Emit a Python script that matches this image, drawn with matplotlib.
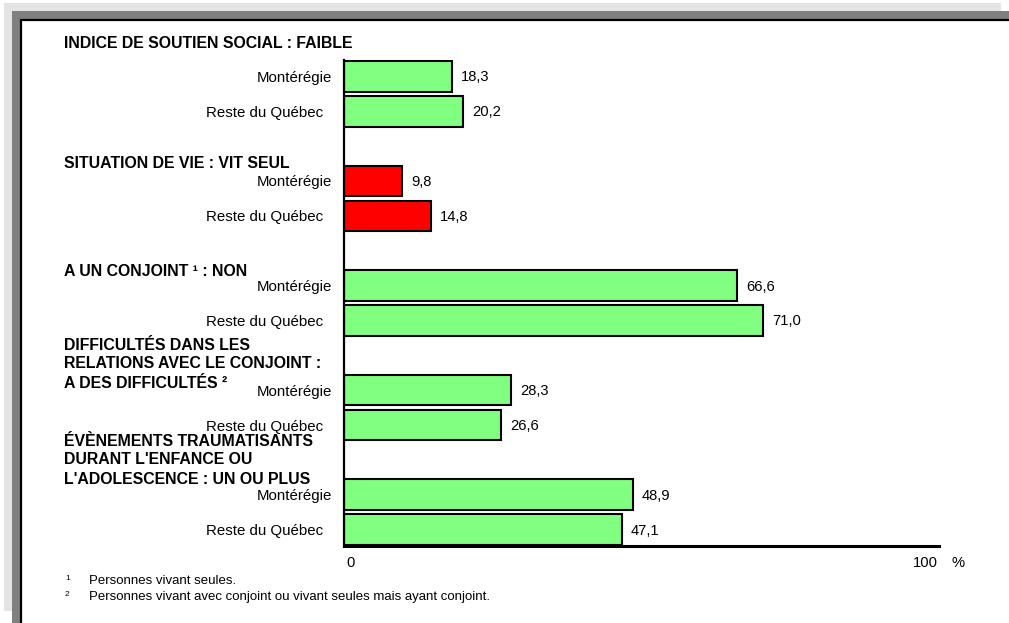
import matplotlib
matplotlib.use("Agg")
import matplotlib.pyplot as plt
from matplotlib.patches import Rectangle

plt.rcParams['font.family'] = ['Liberation Sans', 'DejaVu Sans']

# ---- data ----
groups = [
    "INDICE DE SOUTIEN SOCIAL : FAIBLE",
    "SITUATION DE VIE : VIT SEUL",
    "A UN CONJOINT \u00b9 : NON",
    "DIFFICULTÉS DANS LES\nRELATIONS AVEC LE CONJOINT :\nA DES DIFFICULTÉS \u00b2",
    "ÉVÈNEMENTS TRAUMATISANTS\nDURANT L'ENFANCE OU\nL'ADOLESCENCE : UN OU PLUS",
]
regions = ["Montérégie", "Reste du Québec"]
monteregie = [18.3, 9.8, 66.6, 28.3, 48.9]
reste_quebec = [20.2, 14.8, 71.0, 26.6, 47.1]
group_colors = ["#80FF80", "#FF0000", "#80FF80", "#80FF80", "#80FF80"]
x_ticks = [0, 100]
x_ticklabels = ["0", "100"]
footnotes = ["Personnes vivant seules.",
             "Personnes vivant avec conjoint ou vivant seules mais ayant conjoint."]

W, H = 1009, 623
fig = plt.figure(figsize=(W / 100, H / 100), dpi=100)

def fx(px):
    return px / W

def fy(py):
    return 1 - py / H

# ---- frame ----
fig.patches.append(Rectangle((fx(4), fy(611)), fx(997), (611 - 3) / H,
                             transform=fig.transFigure, facecolor="#E4E4E4",
                             edgecolor="none", zorder=-3))
fig.patches.append(Rectangle((fx(12), fy(640)), fx(1100), (640 - 11) / H,
                             transform=fig.transFigure, facecolor="#808080",
                             edgecolor="none", zorder=-2))
fig.patches.append(Rectangle((fx(21), fy(640)), fx(1100), (640 - 20) / H,
                             transform=fig.transFigure, facecolor="white",
                             edgecolor="black", linewidth=1.6, zorder=-1))

# ---- axes ----
ax_left, ax_right, ax_top, ax_bottom = 344, 939, 60, 546
ax = fig.add_axes([fx(ax_left), fy(ax_bottom), fx(ax_right - ax_left), (ax_bottom - ax_top) / H])
ax.set_facecolor("none")

positions_m = [3 * i for i in range(len(groups))]
positions_r = [3 * i + 1 for i in range(len(groups))]

ax.barh(positions_m, monteregie, height=0.88, color=group_colors,
        edgecolor="black", linewidth=1.5, align="center")
ax.barh(positions_r, reste_quebec, height=0.88, color=group_colors,
        edgecolor="black", linewidth=1.5, align="center")

ax.set_xlim(0, 100.8)
ax.set_ylim(13.47, -0.47)

for s in ["top", "right"]:
    ax.spines[s].set_visible(False)
ax.spines["left"].set_linewidth(1.6)
ax.spines["bottom"].set_linewidth(2.2)
ax.set_yticks([])
ax.set_xticks([])

px2pt = 0.72
fs_reg = 10.8

# category labels and values
for pos_list, vals, name, off in [(positions_m, monteregie, regions[0], 12),
                                  (positions_r, reste_quebec, regions[1], 21)]:
    for p, v in zip(pos_list, vals):
        ax.annotate(name, xy=(0, p), xycoords="data",
                    xytext=(-off * px2pt, -1.5 * px2pt), textcoords="offset points",
                    ha="right", va="center", fontsize=fs_reg, annotation_clip=False)
        ax.annotate(f"{v:.1f}".replace(".", ","), xy=(v, p), xycoords="data",
                    xytext=(9 * px2pt, -1.0 * px2pt), textcoords="offset points",
                    ha="left", va="center", fontsize=10.6, annotation_clip=False)

# x tick labels
tick_offsets = [7, -9]
for t, lab, o in zip(x_ticks, x_ticklabels, tick_offsets):
    ax.annotate(lab, xy=(t, 0), xycoords=("data", "axes fraction"),
                xytext=(o * px2pt, -17 * px2pt), textcoords="offset points",
                ha="center", va="center", fontsize=10.6, annotation_clip=False)
ax.annotate("%", xy=(100, 0), xycoords=("data", "axes fraction"),
            xytext=(24 * px2pt, -17 * px2pt), textcoords="offset points",
            ha="center", va="center", fontsize=10.6, annotation_clip=False)

# group headers (one text per line)
header_y = [[44], [164], [271], [346, 364, 384], [441, 460, 479]]
for g, ys in zip(groups, header_y):
    for line, y in zip(g.split("\n"), ys):
        fig.text(fx(64), fy(y), line, ha="left", va="center", fontsize=11.4,
                 fontweight="bold")

# footnotes
foot_y = [581, 597]
for i, (t, y) in enumerate(zip(footnotes, foot_y)):
    fig.text(fx(65), fy(y - 3), str(i + 1), ha="left", va="center", fontsize=6)
    fig.text(fx(89), fy(y), t, ha="left", va="center", fontsize=9.5)

fig.savefig("out.png", dpi=100)
